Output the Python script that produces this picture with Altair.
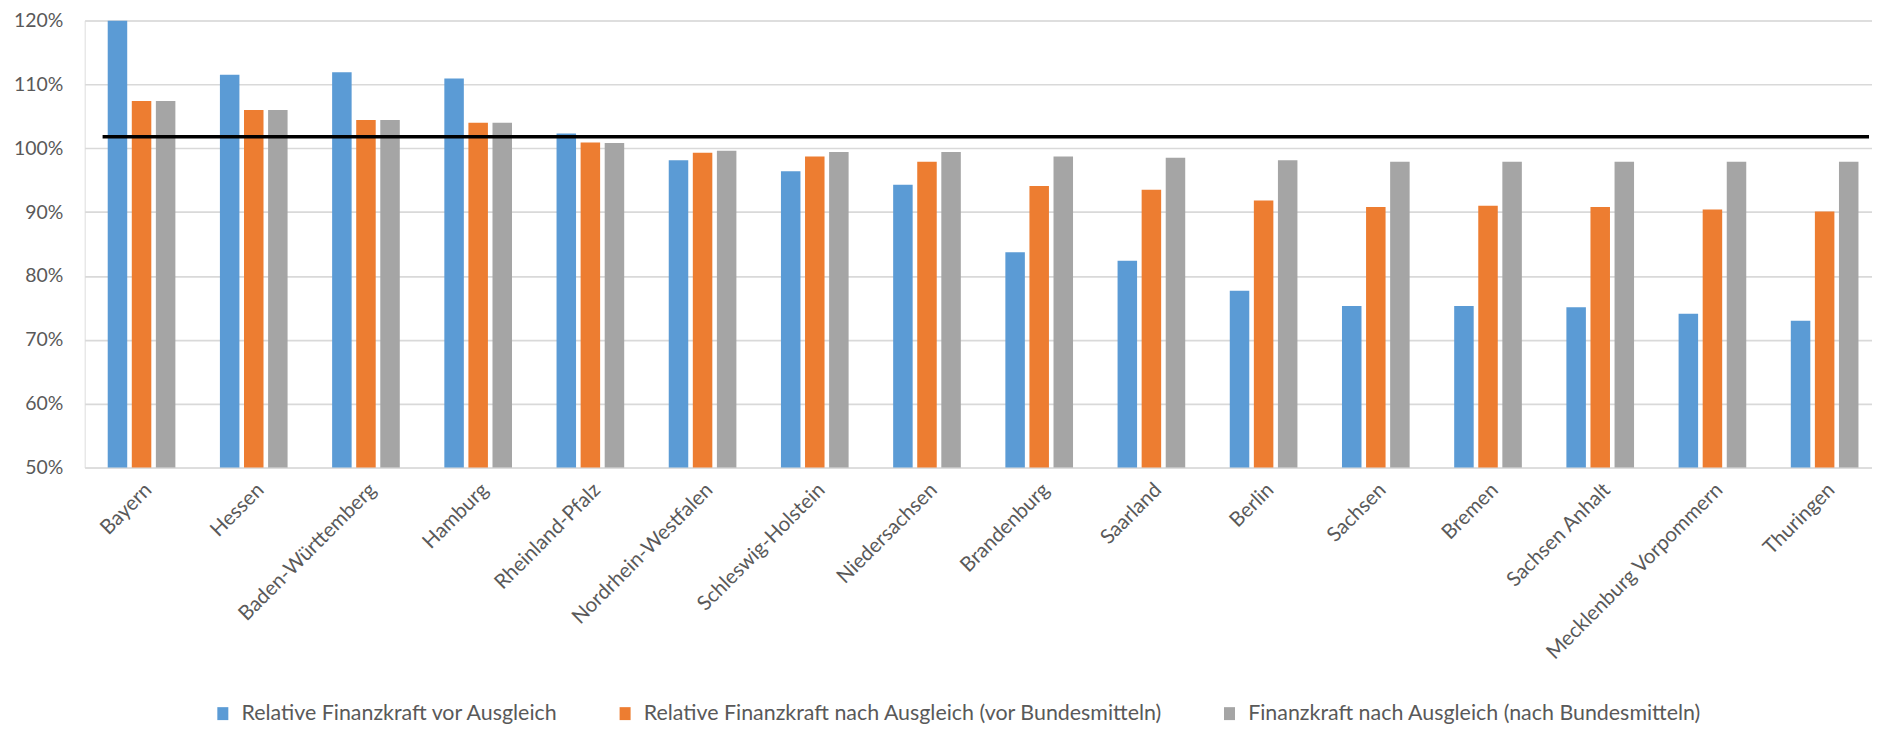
import altair as alt
import pandas as pd

states = ["Bayern", "Hessen", "Baden-Württemberg", "Hamburg", "Rheinland-Pfalz",
          "Nordrhein-Westfalen", "Schleswig-Holstein", "Niedersachsen", "Brandenburg",
          "Saarland", "Berlin", "Sachsen", "Bremen", "Sachsen Anhalt",
          "Mecklenburg Vorpommern", "Thuringen"]

series = ["Relative Finanzkraft vor Ausgleich",
          "Relative Finanzkraft nach Ausgleich (vor Bundesmitteln)",
          "Finanzkraft nach Ausgleich (nach Bundesmitteln)"]

vor_ausgleich = [120.0, 111.5, 111.9, 110.9, 102.3, 98.1, 96.4, 94.3, 83.7, 82.4,
                 77.7, 75.3, 75.3, 75.1, 74.1, 73.0]
nach_ausgleich_vor_bund = [107.4, 106.0, 104.4, 104.0, 100.9, 99.3, 98.7, 97.9, 94.1, 93.5,
                           91.8, 90.8, 91.0, 90.8, 90.4, 90.1]
nach_ausgleich_nach_bund = [107.4, 106.0, 104.4, 104.0, 100.8, 99.6, 99.4, 99.4, 98.7, 98.5,
                            98.1, 97.9, 97.9, 97.9, 97.9, 97.9]

reference_line = [101.8]
y_ticks = [50, 60, 70, 80, 90, 100, 110, 120]
colors = ["#5B9BD5", "#ED7D31", "#A5A5A5"]

rows = []
for s, vals in zip(series, [vor_ausgleich, nach_ausgleich_vor_bund, nach_ausgleich_nach_bund]):
    for land, v in zip(states, vals):
        rows.append({"Land": land, "Serie": s, "Wert": v})
df = pd.DataFrame(rows)
ref_df = pd.DataFrame({"ref": reference_line})

W = 1795
H = 449
TOP = 11
SVG_H = 716
FONT = "Lato"
TXT = "#595959"

y_scale = alt.Scale(domain=[50, 120], nice=False, zero=False)

bars = alt.Chart(df).mark_bar(clip=True).encode(
    x=alt.X("Land:N", sort=states,
            scale=alt.Scale(paddingInner=0.397, paddingOuter=0.163, align=0.63),
            axis=alt.Axis(title=None, labelAngle=-45, labelFontSize=20.5, labelColor=TXT,
                          labelFont=FONT, ticks=False, domain=False, labelPadding=12,
                          labelLimit=0, grid=False)),
    xOffset=alt.XOffset("Serie:N", sort=series,
                        scale=alt.Scale(paddingInner=0.19, paddingOuter=0)),
    y=alt.Y("Wert:Q", scale=y_scale,
            axis=alt.Axis(title=None, values=y_ticks, labelExpr="datum.value + '%'",
                          labelFontSize=19.5, labelColor=TXT, labelFont=FONT,
                          ticks=False, domain=False, labelPadding=22,
                          grid=True, gridColor="#D9D9D9", gridWidth=1.6)),
    color=alt.Color("Serie:N", sort=series,
                    scale=alt.Scale(domain=series, range=colors),
                    legend=alt.Legend(title=None, orient="none", direction="horizontal",
                                      legendX=128, legendY=685,
                                      labelFontSize=21.5, labelColor=TXT, labelFont=FONT,
                                      labelLimit=0, labelOffset=8, columnPadding=56,
                                      symbolType="M-0.85,-1H0.85V1H-0.85Z",
                                      symbolSize=169, symbolStrokeWidth=0)),
)

rule = alt.Chart(ref_df).mark_rule(color="black", strokeWidth=3.5).encode(
    y=alt.Y("ref:Q", scale=y_scale),
    x=alt.value(18),
    x2=alt.value(W - 3),
)

chart = alt.layer(bars, rule).properties(
    width=W, height=H,
    autosize=alt.AutoSizeParams(type="none"),
    padding={"left": 77, "top": TOP, "right": 0, "bottom": SVG_H - TOP - H},
).configure_view(stroke=None).configure(font=FONT)

chart.save("out.html", embed_options={"renderer": "svg", "actions": False})
